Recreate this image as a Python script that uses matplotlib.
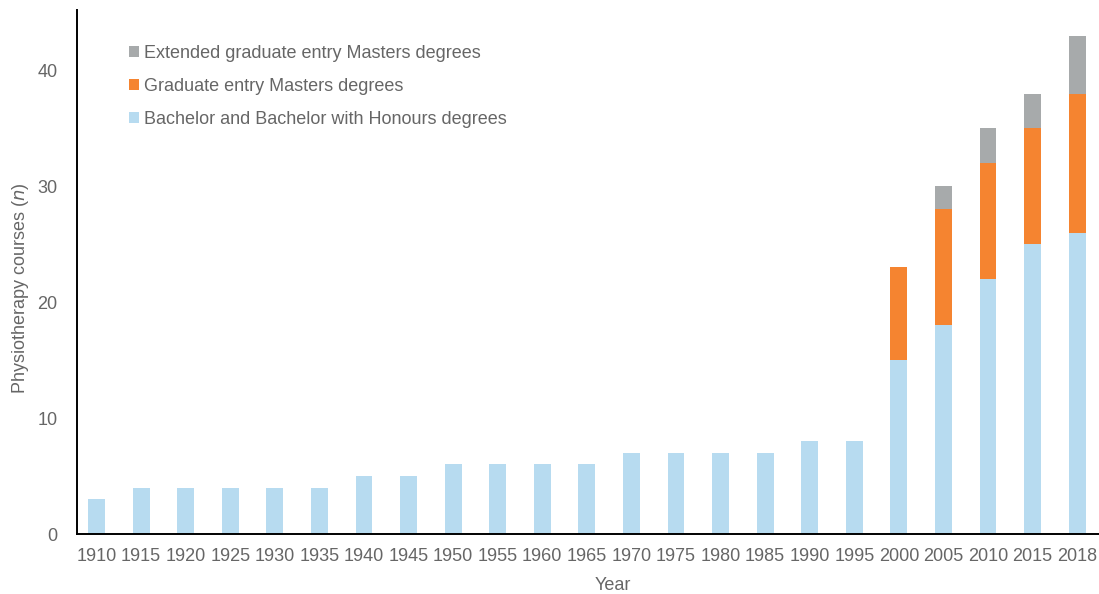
import numpy as np
from matplotlib import pyplot as plt

years = ['1910', '1915', '1920', '1925', '1930', '1935', '1940', '1945', '1950',
         '1955', '1960', '1965', '1970', '1975', '1980', '1985', '1990', '1995',
         '2000', '2005', '2010', '2015', '2018']
bachelor = [3, 4, 4, 4, 4, 4, 5, 5, 6, 6, 6, 6, 7, 7, 7, 7, 8, 8, 15, 18, 22, 25, 26]
grad_masters = [0] * 18 + [8, 10, 10, 10, 12]
ext_masters = [0] * 18 + [0, 2, 3, 3, 5]

plt.rcParams['font.family'] = ['Liberation Sans', 'DejaVu Sans']
text_color = '#666666'
fs = 13

fig = plt.figure(figsize=(10.99, 5.94), dpi=100)
ax = fig.add_axes([0.070, 0.101, 0.930, 0.882])

x = np.arange(len(years))
b = np.array(bachelor)
g = np.array(grad_masters)
e = np.array(ext_masters)
w = 0.38
p1 = ax.bar(x, b, w, color='#b7dbf0', linewidth=0)
p2 = ax.bar(x, g, w, bottom=b, color='#f58430', linewidth=0)
p3 = ax.bar(x, e, w, bottom=b + g, color='#a7aaab', linewidth=0)

ax.set_xlim(-0.44, len(years) - 1 + 0.49)
ax.set_ylim(0, 45.2)
ax.set_xticks(x)
ax.set_xticklabels(years)
ax.set_yticks([0, 10, 20, 30, 40])
ax.tick_params(length=0, labelsize=fs, labelcolor=text_color)
ax.tick_params(axis='x', pad=10)
ax.tick_params(axis='y', pad=14)

for s in ['top', 'right']:
    ax.spines[s].set_visible(False)
for s in ['left', 'bottom']:
    ax.spines[s].set_linewidth(1.4)
    ax.spines[s].set_color('black')

ax.set_xlabel('Year', fontsize=fs, color=text_color, va='center')
ax.xaxis.set_label_coords(613 / 1099, 1 - 586 / 594, transform=fig.transFigure)
ax.set_ylabel('Physiotherapy courses ($\\it{n}$)', fontsize=fs, color=text_color, va='center')
ax.yaxis.set_label_coords(21 / 1099, 1 - 288 / 594, transform=fig.transFigure)

leg = ax.legend([p3, p2, p1],
                ['Extended graduate entry Masters degrees',
                 'Graduate entry Masters degrees',
                 'Bachelor and Bachelor with Honours degrees'],
                loc='upper left', bbox_to_anchor=(0.035, 0.965), frameon=False,
                fontsize=fs, handlelength=0.55, handleheight=0.55, handletextpad=0.3,
                labelspacing=0.9, labelcolor=text_color)

plt.savefig('out.png', dpi=100)
